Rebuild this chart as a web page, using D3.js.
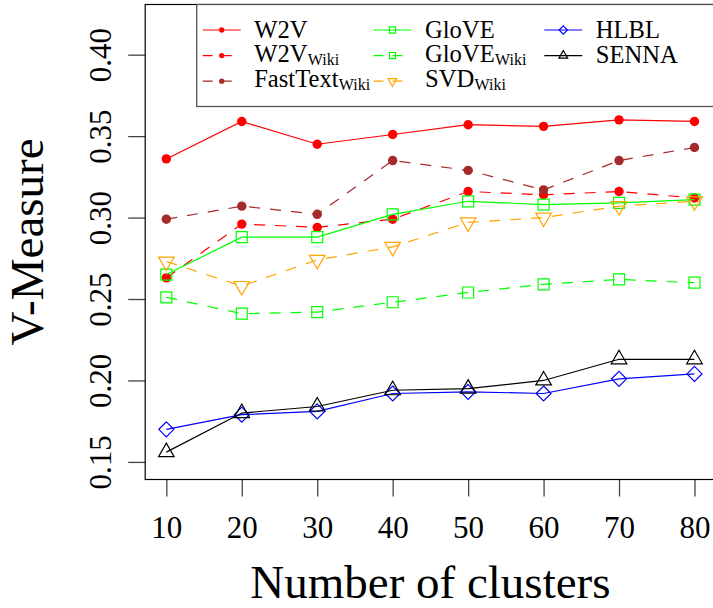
<!DOCTYPE html>
<html>
<head>
<meta charset="utf-8">
<script src="https://cdn.jsdelivr.net/npm/d3@7/dist/d3.min.js"></script>
<style>
  html, body { margin: 0; padding: 0; background: #fff; }
  svg { display: block; }
  text { font-family: "Liberation Serif", "Times New Roman", serif; fill: #000; }
</style>
</head>
<body>
<svg id="chart" width="713" height="608"></svg>
<script>
// ---------------- data ----------------
const clusters = [10, 20, 30, 40, 50, 60, 70, 80];
const w2v          = [0.336, 0.359, 0.345, 0.351, 0.357, 0.356, 0.360, 0.359];
const w2vWiki      = [0.263, 0.296, 0.294, 0.299, 0.316, 0.314, 0.316, 0.312];
const fastTextWiki = [0.299, 0.307, 0.302, 0.335, 0.329, 0.317, 0.335, 0.343];
const glove        = [0.265, 0.288, 0.288, 0.302, 0.310, 0.308, 0.309, 0.311];
const gloveWiki    = [0.251, 0.241, 0.242, 0.248, 0.254, 0.259, 0.262, 0.260];
const svdWiki      = [0.273, 0.258, 0.274, 0.282, 0.297, 0.300, 0.307, 0.310];
const hlbl         = [0.170, 0.179, 0.181, 0.192, 0.193, 0.192, 0.201, 0.204];
const senna        = [0.156, 0.180, 0.184, 0.194, 0.195, 0.200, 0.213, 0.213];

const seriesBase = ["W2V", "W2V", "FastText", "GloVE", "GloVE", "SVD", "HLBL", "SENNA"];
const seriesSub  = ["", "Wiki", "Wiki", "", "Wiki", "Wiki", "", ""];
const xTickLabels = ["10", "20", "30", "40", "50", "60", "70", "80"];
const yTickValues = [0.15, 0.20, 0.25, 0.30, 0.35, 0.40];
const xTitle = "Number of clusters";
const yTitle = "V-Measure";

// ---------------- styles ----------------
const styles = [
  { color: "#ff0000", dash: null,    shape: "dot" },
  { color: "#ff0000", dash: "11,10", shape: "dot" },
  { color: "#a52a2a", dash: "11,10", shape: "dot" },
  { color: "#00ff00", dash: null,    shape: "square" },
  { color: "#00ff00", dash: "11,10", shape: "square" },
  { color: "#ffa500", dash: "11,10", shape: "tridown" },
  { color: "#0000ff", dash: null,    shape: "diamond" },
  { color: "#000000", dash: null,    shape: "triup" }
];
const allValues = [w2v, w2vWiki, fastTextWiki, glove, gloveWiki, svdWiki, hlbl, senna];

const svg = d3.select("#chart");
const pL = 145.2, pR = 715.6, pT = 4.5, pB = 479.5;

const x = d3.scaleLinear().domain([7.2, 82.8]).range([pL, pR]);
const y = d3.scaleLinear().domain([0.1392, 0.4308]).range([pB, pT]);

function markerPath(shape, s) {
  if (shape === "square") {
    const h = 5.5 * s;
    return `M${-h},${-h}H${h}V${h}H${-h}Z`;
  }
  if (shape === "diamond") {
    const h = 7.5 * s;
    return `M0,${-h}L${h},0L0,${h}L${-h},0Z`;
  }
  if (shape === "triup") {
    const r = 9 * s, xc = r * 0.866, yc = r * 0.5;
    return `M0,${-r}L${xc},${yc}L${-xc},${yc}Z`;
  }
  if (shape === "tridown") {
    const r = 9 * s, xc = r * 0.866, yc = r * 0.5;
    return `M0,${r}L${xc},${-yc}L${-xc},${-yc}Z`;
  }
  return null;
}

function drawMarker(g, shape, color, cx, cy, s) {
  if (shape === "dot") {
    g.append("circle").attr("cx", cx).attr("cy", cy).attr("r", 4.7 * s)
      .attr("fill", color).attr("stroke", "none");
  } else {
    g.append("path").attr("d", markerPath(shape, s))
      .attr("transform", `translate(${cx},${cy})`)
      .attr("fill", "none").attr("stroke", color).attr("stroke-width", 1.2);
  }
}

svg.append("defs").append("clipPath").attr("id", "plotclip")
  .append("rect").attr("x", pL).attr("y", pT).attr("width", pR - pL).attr("height", pB - pT);

const plot = svg.append("g").attr("clip-path", "url(#plotclip)");
const line = d3.line().x((d, i) => x(clusters[i])).y(d => y(d));

allValues.forEach((vals, k) => {
  const st = styles[k];
  const g = plot.append("g");
  g.append("path").datum(vals).attr("d", line)
    .attr("fill", "none").attr("stroke", st.color).attr("stroke-width", 1.2)
    .attr("stroke-dasharray", st.dash);
  vals.forEach((v, i) => drawMarker(g, st.shape, st.color, x(clusters[i]), y(v), 1));
});

// ---------------- axes ----------------
const xAxis = d3.axisBottom(x).tickValues(clusters).tickFormat((d, i) => xTickLabels[i])
  .tickSize(17).tickPadding(19);
const gx = svg.append("g").attr("transform", `translate(0,${pB})`).call(xAxis);
gx.select(".domain").remove();
gx.selectAll(".tick line").attr("stroke", "#444").attr("stroke-width", 1.3);
gx.selectAll(".tick text").attr("font-size", 31).attr("font-family", "Liberation Serif, serif").attr("fill", "#000");

const yAxis = d3.axisLeft(y).tickValues(yTickValues).tickFormat(d3.format(".2f")).tickSize(17);
const gy = svg.append("g").attr("transform", `translate(${pL},0)`).call(yAxis);
gy.select(".domain").remove();
gy.selectAll(".tick line").attr("stroke", "#444").attr("stroke-width", 1.3);
gy.selectAll(".tick text")
  .attr("font-size", 31).attr("font-family", "Liberation Serif, serif").attr("fill", "#000")
  .attr("x", null).attr("dy", null)
  .attr("text-anchor", "middle")
  .attr("transform", `translate(${111 - pL},0) rotate(-90)`);

svg.append("rect").attr("x", pL).attr("y", pT).attr("width", pR - pL).attr("height", pB - pT)
  .attr("fill", "none").attr("stroke", "#000").attr("stroke-width", 1.2);

svg.append("text").attr("x", (pL + pR) / 2).attr("y", 598)
  .attr("text-anchor", "middle").attr("font-size", 47).text(xTitle);
svg.append("text").attr("transform", `translate(43,${(pT + pB) / 2}) rotate(-90)`)
  .attr("text-anchor", "middle").attr("font-size", 47).text(yTitle);

// ---------------- legend ----------------
const leg = svg.append("g");
leg.append("rect").attr("x", 196.7).attr("y", pT).attr("width", 540).attr("height", 106.5 - pT)
  .attr("fill", "#fff").attr("stroke", "#555").attr("stroke-width", 1.3);

const colX = [202.7, 373.5, 544.3];
const rowY = [30, 55.6, 81.2];
allValues.forEach((vals, k) => {
  const st = styles[k];
  const col = Math.floor(k / 3), row = k % 3;
  const x0 = colX[col], cy = rowY[row];
  leg.append("line").attr("x1", x0).attr("x2", x0 + 38).attr("y1", cy).attr("y2", cy)
    .attr("stroke", st.color).attr("stroke-width", 1.2).attr("stroke-dasharray", st.dash ? "10,9" : null);
  drawMarker(leg, st.shape, st.color, x0 + 19, cy, 0.56);
  const tx = x0 + 51.5;
  const hasSub = seriesSub[k] !== "";
  const t = leg.append("text").attr("x", tx).attr("y", cy + (hasSub ? 6.2 : 7.5))
    .attr("font-size", 24.6).text(seriesBase[k]);
  if (hasSub) {
    const w = t.node().getComputedTextLength();
    leg.append("text").attr("x", tx + w + 0.3).attr("y", cy + 8.9)
      .attr("font-size", 16).text(seriesSub[k]);
  }
});
</script>
</body>
</html>
